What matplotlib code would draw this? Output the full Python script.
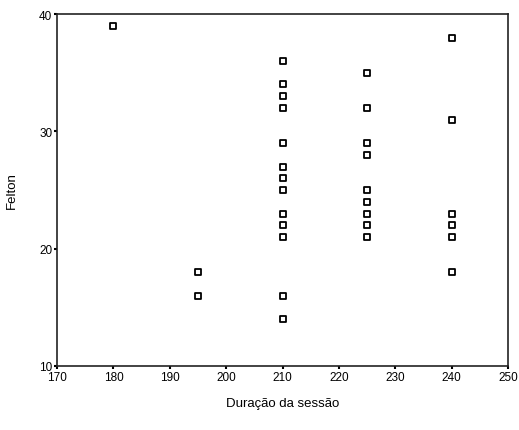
import matplotlib.pyplot as plt

plt.rcParams['font.family'] = ['Liberation Sans', 'DejaVu Sans']

# Duração da sessão x Felton
duracao = [180,
           195, 195,
           210, 210, 210, 210, 210, 210, 210, 210, 210, 210, 210, 210, 210,
           225, 225, 225, 225, 225, 225, 225, 225, 225,
           240, 240, 240, 240, 240, 240]
felton = [39,
          18, 16,
          36, 34, 33, 32, 29, 27, 26, 25, 23, 22, 21, 16, 14,
          35, 32, 29, 28, 25, 24, 23, 22, 21,
          38, 31, 23, 22, 21, 18]

xticks = [170, 180, 190, 200, 210, 220, 230, 240, 250]
yticks = [10, 20, 30, 40]

fig = plt.figure(figsize=(5.19, 4.31), dpi=100)
ax = fig.add_axes([0.110, 0.1485, 0.869, 0.8165])

ax.scatter(duracao, felton, marker='s', s=20, facecolors='white',
           edgecolors='black', linewidths=1.3, zorder=3)

ax.set_xlim(170, 250)
ax.set_ylim(10, 40)
ax.set_xticks(xticks)
ax.set_yticks(yticks)
ax.tick_params(direction='out', length=2, width=1.5, labelsize=8.5, pad=1.5)

for s in ax.spines.values():
    s.set_linewidth(1.2)
    s.set_color('#222222')

ax.set_xlabel('Duração da sessão', fontsize=9.5, labelpad=10)
ax.set_ylabel('Felton', fontsize=9.5, labelpad=15)

fig.savefig('out.png', dpi=100)
